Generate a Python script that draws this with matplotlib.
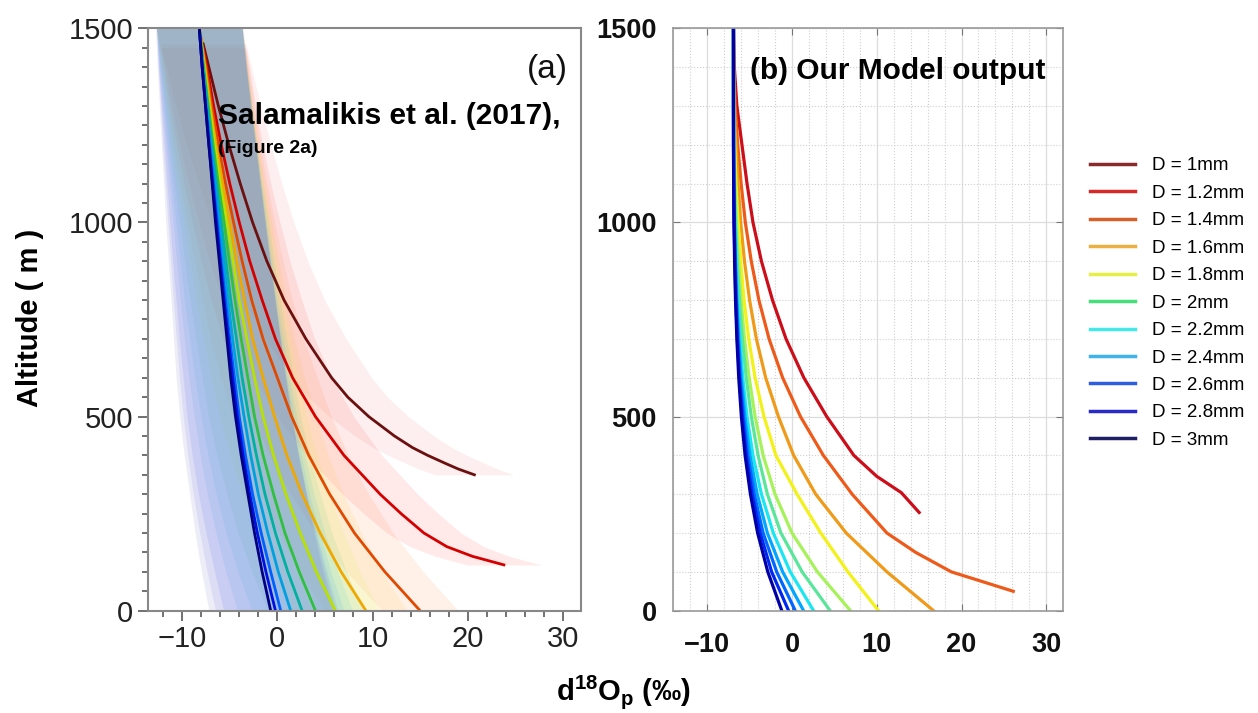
import matplotlib
matplotlib.use("Agg")
import matplotlib.pyplot as plt
from matplotlib.lines import Line2D
from matplotlib.ticker import MultipleLocator
import numpy as np

plt.rcParams['font.family'] = ['Liberation Sans', 'DejaVu Sans']
plt.rcParams['mathtext.fontset'] = 'custom'
plt.rcParams['mathtext.rm'] = 'Liberation Sans'
plt.rcParams['mathtext.bf'] = 'Liberation Sans:bold'

# -------------------------------------------------------------------
# DATA

diameters = ['1', '1.2', '1.4', '1.6', '1.8', '2', '2.2', '2.4', '2.6', '2.8', '3']
labels = ['D = ' + d + 'mm' for d in diameters]

# common altitude grid (m), top to bottom
alt_grid = [1500, 1400, 1300, 1200, 1100, 1000, 900, 800, 700, 600, 500, 400, 300, 200, 100, 0]

# panel (a): Salamalikis et al. (2017) curves, d18O in permil
a_alt_10 = [1460, 1400, 1300, 1200, 1100, 1000, 900, 800, 700, 600, 550, 500, 450, 420, 400, 380, 365, 350]
a_x_10 = [-7.8, -7.2, -6.2, -5.1, -3.9, -2.6, -1.1, 0.7, 3.0, 5.7, 7.4, 9.6, 12.3, 14.2, 15.8, 17.6, 19.0, 20.7]
a_alt_12 = [1450, 1400, 1300, 1200, 1100, 1000, 900, 800, 700, 600, 500, 400, 300, 250, 200, 165, 140, 118]
a_x_12 = [-7.8, -7.4, -6.7, -5.9, -5.0, -4.0, -2.9, -1.6, -0.2, 1.6, 4.0, 7.0, 10.8, 13.0, 15.4, 17.8, 20.5, 23.8]
a_x_14 = [-8.2, -7.5, -6.9, -6.2, -5.45, -4.6, -3.7, -2.7, -1.5, 0.0, 1.5, 3.3, 5.5, 8.1, 11.3, 15.0]
a_x_16 = [-8.2, -7.6, -7.05, -6.45, -5.75, -5.0, -4.25, -3.45, -2.6, -1.5, -0.3, 1.0, 2.6, 4.5, 6.7, 9.3]
a_x_18 = [-8.2, -7.7, -7.15, -6.6, -6.0, -5.3, -4.65, -4.0, -3.2, -2.4, -1.5, -0.4, 0.9, 2.4, 4.1, 6.1]
a_x_20 = [-8.2, -7.75, -7.25, -6.75, -6.2, -5.6, -5.05, -4.45, -3.8, -3.1, -2.4, -1.5, -0.4, 0.8, 2.3, 4.0]
a_x_22 = [-8.2, -7.8, -7.35, -6.9, -6.4, -5.9, -5.4, -4.9, -4.3, -3.7, -3.0, -2.2, -1.3, -0.2, 1.1, 2.6]
a_x_24 = [-8.2, -7.85, -7.45, -7.0, -6.55, -6.1, -5.65, -5.2, -4.7, -4.15, -3.5, -2.8, -2.0, -1.0, 0.1, 1.4]
a_x_26 = [-8.2, -7.9, -7.5, -7.1, -6.7, -6.3, -5.9, -5.45, -5.0, -4.5, -4.0, -3.35, -2.6, -1.7, -0.7, 0.35]
a_x_28 = [-8.2, -7.9, -7.55, -7.2, -6.8, -6.4, -6.0, -5.6, -5.15, -4.7, -4.2, -3.6, -2.9, -2.1, -1.2, -0.2]
a_x_30 = [-8.2, -7.9, -7.55, -7.2, -6.85, -6.5, -6.1, -5.7, -5.3, -4.9, -4.4, -3.8, -3.1, -2.4, -1.6, -0.7]
# half width of the shaded uncertainty band (permil) at 1500 m and at 0 m
a_band_top = [4.5, 4.5, 4.5, 4.5, 4.5, 4.5, 4.5, 4.5, 4.5, 4.5, 4.6]
a_band_bottom = [4.0, 3.8, 4.0, 4.3, 4.6, 5.0, 5.3, 5.6, 6.0, 6.3, 6.5]

# panel (b): our model output
b_alt_10 = [1500, 1400, 1300, 1200, 1100, 1000, 900, 800, 700, 600, 500, 400, 346, 304, 253]
b_x_10 = [-6.9, -6.8, -6.5, -5.9, -5.3, -4.6, -3.6, -2.3, -0.7, 1.4, 4.1, 7.3, 10.0, 12.9, 15.0]
b_alt_12 = [1500, 1400, 1300, 1200, 1100, 1000, 900, 800, 700, 600, 500, 400, 300, 200, 150, 100, 50]
b_x_12 = [-6.9, -6.88, -6.7, -6.4, -6.0, -5.5, -4.8, -3.9, -2.7, -1.1, 1.0, 3.7, 7.1, 11.2, 14.6, 18.8, 26.1]
b_x_14 = [-6.9, -6.89, -6.8, -6.6, -6.35, -6.05, -5.6, -5.0, -4.2, -3.1, -1.6, 0.2, 2.8, 6.4, 11.2, 16.7]
b_x_16 = [-6.9, -6.9, -6.85, -6.75, -6.6, -6.35, -6.05, -5.65, -5.1, -4.35, -3.3, -1.9, 0.6, 3.4, 6.6, 10.2]
b_x_18 = [-6.9, -6.9, -6.88, -6.82, -6.72, -6.55, -6.3, -6.0, -5.6, -5.05, -4.35, -3.4, -2.0, 0.0, 3.0, 6.9]
b_x_20 = [-6.9, -6.9, -6.89, -6.85, -6.78, -6.65, -6.45, -6.2, -5.85, -5.4, -4.8, -4.0, -2.9, -1.3, 1.2, 4.5]
b_x_22 = [-6.9, -6.9, -6.9, -6.87, -6.82, -6.73, -6.6, -6.4, -6.15, -5.8, -5.3, -4.6, -3.6, -2.2, -0.2, 2.55]
b_x_24 = [-6.9, -6.9, -6.9, -6.88, -6.84, -6.77, -6.66, -6.5, -6.28, -5.98, -5.55, -4.95, -4.1, -2.9, -1.1, 1.37]
b_x_26 = [-6.9, -6.9, -6.9, -6.89, -6.86, -6.8, -6.7, -6.56, -6.37, -6.1, -5.72, -5.2, -4.45, -3.4, -1.8, 0.39]
b_x_28 = [-6.9, -6.9, -6.9, -6.9, -6.87, -6.82, -6.74, -6.62, -6.45, -6.2, -5.85, -5.38, -4.7, -3.75, -2.4, -0.4]
b_x_30 = [-6.9, -6.9, -6.9, -6.9, -6.88, -6.84, -6.77, -6.66, -6.5, -6.28, -5.97, -5.53, -4.9, -4.05, -2.85, -1.2]

# colours
a_colors = ['#6b0f0f', '#d40000', '#e04a00', '#f0a800', '#b8e000', '#30c040',
            '#00b0a0', '#00a0e0', '#0060ff', '#0010e0', '#000080']
band_colors = ['#f08080', '#ff5050', '#ff8c40', '#ffc040', '#d8f040', '#60d080',
               '#40c8c8', '#40a8e8', '#4070f0', '#6060e0', '#7070c8']
b_colors = ['#cc0d1a', '#ee5a1a', '#f09a1a', '#f2f21a', '#a6f25a', '#5ae69a',
            '#1ae6f2', '#00a6ff', '#0066ff', '#0026f2', '#0000a6']
leg_colors = ['#8b2a2a', '#d42a2a', '#d6602a', '#eab040', '#e6ef45', '#45e07a',
              '#45e8e8', '#40b4ea', '#2f5fdc', '#2a2ac8', '#1e1e64']

a_series = [(a_alt_10, a_x_10), (a_alt_12, a_x_12), (alt_grid, a_x_14), (alt_grid, a_x_16),
            (alt_grid, a_x_18), (alt_grid, a_x_20), (alt_grid, a_x_22), (alt_grid, a_x_24),
            (alt_grid, a_x_26), (alt_grid, a_x_28), (alt_grid, a_x_30)]
b_series = [(b_alt_10, b_x_10), (b_alt_12, b_x_12), (alt_grid, b_x_14), (alt_grid, b_x_16),
            (alt_grid, b_x_18), (alt_grid, b_x_20), (alt_grid, b_x_22), (alt_grid, b_x_24),
            (alt_grid, b_x_26), (alt_grid, b_x_28), (alt_grid, b_x_30)]

# -------------------------------------------------------------------
# FIGURE
fig = plt.figure(figsize=(12.58, 7.13), dpi=100)
ax1 = fig.add_axes([0.1176, 0.1435, 0.3442, 0.8168])
ax2 = fig.add_axes([0.5352, 0.1435, 0.3100, 0.8168])

# panel (a): bands first (widening towards the ground), then lines
for (alt, x), c, w0, w1 in zip(a_series, band_colors, a_band_top, a_band_bottom):
    x = np.array(x)
    frac = 1 - np.array(alt) / 1500.0
    w = w0 + (w1 - w0) * frac
    ax1.fill_betweenx(alt, x - w, x + w, color=c, alpha=0.12, lw=0)
for (alt, x), c in zip(a_series, a_colors):
    ax1.plot(x, alt, color=c, lw=2.0)

ax1.set_xlim(-13.6, 31.9)
ax1.set_ylim(0, 1500)
ax1.set_xticks([-10, 0, 10, 20, 30])
ax1.set_yticks([0, 500, 1000, 1500])
ax1.xaxis.set_minor_locator(MultipleLocator(2))
ax1.yaxis.set_minor_locator(MultipleLocator(50))
ax1.tick_params(which='both', direction='out', color='#666666', width=1.3,
                labelsize=21, labelcolor='#222222', top=False, right=False)
ax1.tick_params(which='major', length=7)
ax1.tick_params(which='minor', length=4)
for s in ax1.spines.values():
    s.set_color('#888888')
    s.set_linewidth(1.5)

ax1.text(0.97, 0.93, '(a)', transform=ax1.transAxes, ha='right', va='center',
         fontsize=24, color='#111111')
ax1.text(0.162, 0.850, 'Salamalikis et al. (2017),', transform=ax1.transAxes,
         ha='left', va='center', fontsize=21.5, fontweight='bold')
ax1.text(0.162, 0.793, '(Figure 2a)', transform=ax1.transAxes,
         ha='left', va='center', fontsize=14, fontweight='bold')

# panel (b)
for (alt, x), c in zip(b_series, b_colors):
    ax2.plot(x, alt, color=c, lw=2.3)

ax2.set_xlim(-14, 32)
ax2.set_ylim(0, 1500)
ax2.set_xticks([-10, 0, 10, 20, 30])
ax2.set_yticks([0, 500, 1000, 1500])
ax2.xaxis.set_minor_locator(MultipleLocator(2))
ax2.yaxis.set_minor_locator(MultipleLocator(100))
ax2.grid(which='major', color='#dddddd', lw=0.9, ls='-')
ax2.grid(which='minor', color='#cfcfcf', lw=0.8, ls=':')
ax2.set_axisbelow(True)
ax2.tick_params(which='both', direction='in', color='#777777', top=True, right=True,
                labelsize=19.5, labelcolor='#111111')
ax2.tick_params(which='major', length=5)
ax2.tick_params(which='minor', length=0)
ax2.tick_params(axis='x', pad=15)
ax2.tick_params(axis='y', pad=12)
for lab in ax2.get_xticklabels() + ax2.get_yticklabels():
    lab.set_fontweight('bold')
for s in ax2.spines.values():
    s.set_color('#999999')
    s.set_linewidth(1.2)
ax2.text(0.197, 0.927, '(b) Our Model output', transform=ax2.transAxes,
         ha='left', va='center', fontsize=21.5, fontweight='bold')

# shared labels
fig.text(0.0238, 0.554, 'Altitude ( m )', rotation=90, ha='center', va='center',
         fontsize=21, fontweight='bold')
fig.text(0.4952, 0.030, r'$\mathbf{d^{18}O_p}$ (‰)', ha='center', va='center',
         fontsize=21, fontweight='bold')

# legend
handles = [Line2D([0], [0], color=c, lw=2.5) for c in leg_colors]
fig.legend(handles, labels, loc='upper left', bbox_to_anchor=(0.853, 0.803),
           frameon=False, fontsize=13.5, handlelength=2.4, handletextpad=0.9,
           labelspacing=0.55)

fig.savefig('out.png', dpi=100)
